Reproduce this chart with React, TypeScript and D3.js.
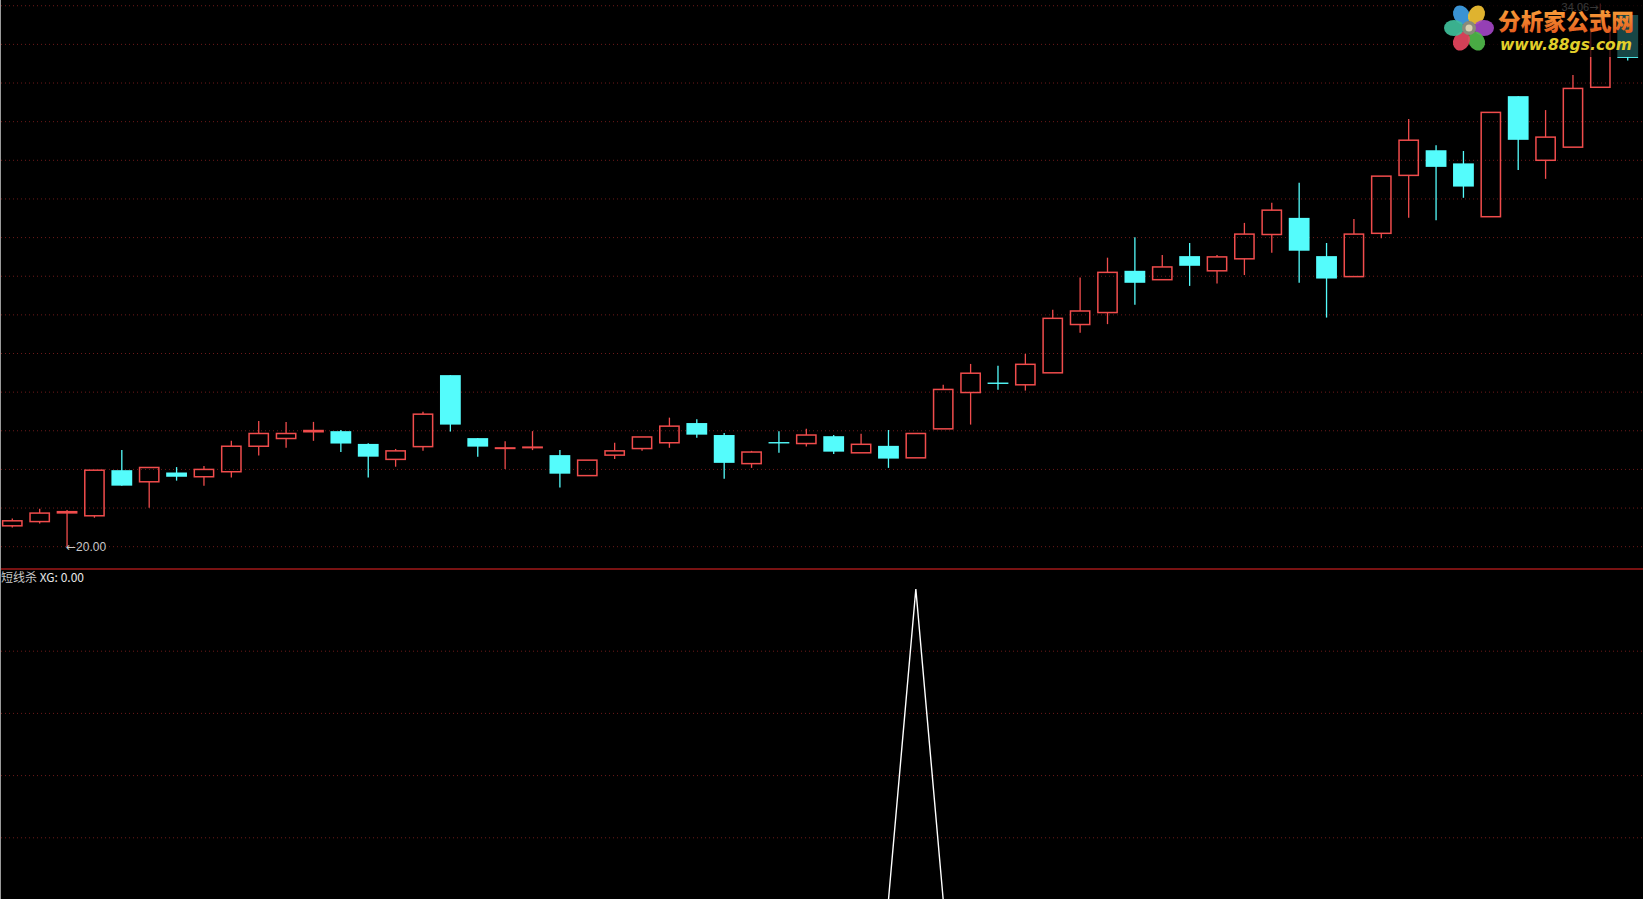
import React from "react";
import * as d3 from "d3";

const W = 1643;
const H = 899;

// daily candles, left to right
const opens = [
  20.54, 20.65, 20.83, 20.8, 21.98, 21.68, 21.92, 21.81, 21.94, 22.6,
  22.8, 22.93, 22.99, 22.66, 22.26, 22.59, 24.44, 22.81, 22.5, 22.54,
  22.37, 21.84, 22.37, 22.54, 22.69, 23.2, 22.89, 22.15, 22.69, 22.67,
  22.86, 22.43, 22.61, 22.3, 23.05, 23.99, 24.23, 24.19, 24.5, 25.75,
  26.06, 27.14, 26.91, 27.52, 27.14, 27.45, 28.08, 28.51, 27.52, 26.99,
  28.11, 29.61, 30.26, 29.92, 28.54, 31.66, 30.0, 30.34, 31.89, 33.76,
];
const closes = [
  20.67, 20.87, 20.9, 21.98, 21.58, 22.05, 21.81, 22.0, 22.6, 22.93,
  22.93, 23.0, 22.67, 22.33, 22.48, 23.43, 23.16, 22.59, 22.55, 22.57,
  21.89, 22.24, 22.48, 22.84, 23.12, 22.9, 22.17, 22.45, 22.69, 22.89,
  22.46, 22.65, 22.28, 22.93, 24.07, 24.49, 24.23, 24.72, 25.91, 26.1,
  27.1, 26.83, 27.24, 27.27, 27.5, 28.09, 28.71, 27.66, 26.94, 28.09,
  29.59, 30.52, 29.83, 29.32, 31.24, 30.53, 30.6, 31.86, 33.42, 32.65,
];
const highs = [
  20.73, 20.98, 20.95, 21.98, 22.5, 22.06, 22.06, 22.09, 22.74, 23.25,
  23.23, 23.23, 23.02, 22.68, 22.53, 23.49, 24.44, 22.81, 22.73, 22.99,
  22.5, 22.24, 22.69, 22.84, 23.34, 23.3, 22.94, 22.48, 22.99, 23.05,
  22.89, 22.92, 23.02, 22.93, 24.19, 24.73, 24.68, 24.99, 26.13, 26.97,
  27.48, 28.01, 27.55, 27.86, 27.55, 28.38, 28.9, 29.42, 27.86, 28.48,
  29.59, 31.07, 30.39, 30.24, 31.24, 31.66, 31.3, 32.21, 34.06, 33.76,
];
const lows = [
  20.5, 20.6, 20.0, 20.75, 21.58, 21.01, 21.71, 21.58, 21.79, 22.36,
  22.56, 22.74, 22.45, 21.79, 22.07, 22.48, 22.98, 22.33, 22.01, 22.5,
  21.53, 21.84, 22.27, 22.48, 22.56, 22.82, 21.76, 22.04, 22.43, 22.59,
  22.4, 22.43, 22.04, 22.3, 23.05, 23.16, 24.06, 24.04, 24.5, 25.54,
  25.76, 26.26, 26.91, 26.75, 26.81, 27.03, 27.61, 26.83, 25.93, 26.99,
  27.98, 28.51, 28.45, 29.03, 28.54, 29.75, 29.52, 30.34, 31.89, 32.58,
];
// 短线杀 XG signal
const xg = [
  0, 0, 0, 0, 0, 0, 0, 0, 0, 0,
  0, 0, 0, 0, 0, 0, 0, 0, 0, 0,
  0, 0, 0, 0, 0, 0, 0, 0, 0, 0,
  0, 0, 0, 1, 0, 0, 0, 0, 0, 0,
  0, 0, 0, 0, 0, 0, 0, 0, 0, 0,
  0, 0, 0, 0, 0, 0, 0, 0, 0, 0,
];

const priceGrid = [20, 21, 22, 23, 24, 25, 26, 27, 28, 29, 30, 31, 32, 33, 34];
const xgGrid = [0.2, 0.4, 0.6, 0.8];

const UP = "#f04c4c";
const DOWN = "#54fcfc";
const GRID = "#6e1a1a";

const x = d3
  .scaleBand<number>()
  .domain(d3.range(opens.length))
  .range([-1.39, 1641.41])
  .paddingInner(0.2403)
  .paddingOuter(0.12);
const bw = x.bandwidth();
const cx = (i: number) => x(i)! + bw / 2;

const yPrice = d3.scaleLinear().domain([20, 34]).range([546.7, 5.74]);
const yXg = d3.scaleLinear().domain([0, 1]).range([900, 589]);

const xgLine = d3
  .line<number>()
  .x((_, i) => cx(i))
  .y((d) => yXg(d));

const petals = [
  { a: -120, c: "#3f9fe6" },
  { a: -60, c: "#f2c233" },
  { a: 0, c: "#a245c4" },
  { a: 60, c: "#4fb84a" },
  { a: 120, c: "#e5455e" },
  { a: 180, c: "#3fbf9a" },
];

const Candle: React.FC<{ i: number }> = ({ i }) => {
  const o = opens[i], c = closes[i], h = highs[i], l = lows[i];
  const up = c > o;
  const col = up ? UP : DOWN;
  const top = yPrice(Math.max(o, c));
  const bot = yPrice(Math.min(o, c));
  const mid = cx(i);
  const left = x(i)!;
  const bh = bot - top;
  if (bh < 3) {
    return (
      <g>
        <line x1={mid} x2={mid} y1={yPrice(h)} y2={yPrice(l)} stroke={col} strokeWidth={1.3} />
        <rect x={left} y={top - (up ? 1 : 0.7)} width={bw} height={Math.max(bh, up ? 2 : 1.4)} fill={col} />
      </g>
    );
  }
  if (up) {
    return (
      <g>
        <line x1={mid} x2={mid} y1={yPrice(h)} y2={top} stroke={col} strokeWidth={1.3} />
        <line x1={mid} x2={mid} y1={bot} y2={yPrice(l)} stroke={col} strokeWidth={1.3} />
        <rect x={left + 0.75} y={top} width={bw - 1.5} height={bh} fill="none" stroke={col} strokeWidth={1.5} />
      </g>
    );
  }
  return (
    <g>
      <line x1={mid} x2={mid} y1={yPrice(h)} y2={yPrice(l)} stroke={col} strokeWidth={1.3} />
      <rect x={left} y={top} width={bw} height={bh} fill={col} />
    </g>
  );
};

export default function App() {
  const lowIdx = d3.minIndex(lows);
  const highIdx = d3.maxIndex(highs);
  return (
    <svg
      width={W}
      height={H}
      style={{ position: "absolute", left: 0, top: 0, background: "#000" }}
    >
      <rect width={W} height={H} fill="#000" />
      {priceGrid.map((p) => (
        <line key={p} x1={1} x2={W} y1={yPrice(p)} y2={yPrice(p)} stroke={GRID} strokeDasharray="1 3" />
      ))}
      {xgGrid.map((v) => (
        <line key={v} x1={1} x2={W} y1={yXg(v)} y2={yXg(v)} stroke={GRID} strokeDasharray="1 3" />
      ))}
      <line x1={0} x2={W} y1={569} y2={569} stroke="#a01818" strokeWidth={1.5} />
      <line x1={0.5} x2={0.5} y1={0} y2={H} stroke="#9a9a9a" />

      {opens.map((_, i) => (
        <Candle key={i} i={i} />
      ))}

      <text
        x={cx(lowIdx) - 1}
        y={yPrice(lows[lowIdx]) + 4.5}
        fill="#c8c8c8"
        fontSize={12}
        fontFamily="'Liberation Sans', Arial, sans-serif"
      >
        <tspan fontFamily="'DejaVu Sans', sans-serif">←</tspan>
        {lows[lowIdx].toFixed(2)}
      </text>
      <text
        x={cx(highIdx) - 2}
        y={yPrice(highs[highIdx]) + 8}
        fill="#c8c8c8"
        fontSize={11}
        textAnchor="end"
        fontFamily="'Liberation Sans', Arial, sans-serif"
      >
        {highs[highIdx].toFixed(2)}
        <tspan fontFamily="'DejaVu Sans', sans-serif">→</tspan>
      </text>

      <path d={xgLine(xg) ?? ""} fill="none" stroke="#ffffff" strokeWidth={1.4} />

      <text x={1} y={582} fontSize={12} fontFamily="'Noto Sans CJK SC', sans-serif" fill="#c8c8c8">
        短线杀 <tspan fill="#e8e8e8">XG: {xg[xg.length - 1].toFixed(2)}</tspan>
      </text>

      {/* logo overlay, dims what is behind it */}
      <rect x={1437} y={0} width={W - 1437} height={57} fill="#000" opacity={0.72} />
      <g transform="translate(1469,28)">
        {petals.map((p) => (
          <ellipse
            key={p.a}
            cx={0}
            cy={0}
            rx={10}
            ry={8}
            fill={p.c}
            transform={`rotate(${p.a}) translate(15,0)`}
            opacity={0.92}
          />
        ))}
        <circle r={7} fill="#8a8a7a" />
        <circle r={3.5} fill="#d8d0b0" />
      </g>
      <defs>
        <linearGradient id="logoGrad" x1="0" y1="0" x2="0" y2="1">
          <stop offset="0" stopColor="#ffb040" />
          <stop offset="1" stopColor="#e0521a" />
        </linearGradient>
      </defs>
      <text
        x={1498}
        y={30}
        fontSize={23}
        fontWeight={900}
        fill="url(#logoGrad)"
        fontFamily="'Noto Sans CJK SC', sans-serif"
        textLength={136}
        lengthAdjust="spacingAndGlyphs"
      >
        分析家公式网
      </text>
      <text
        x={1500}
        y={50}
        fontSize={16}
        fontWeight={700}
        fontStyle="italic"
        fill="#e2cf2a"
        fontFamily="'DejaVu Sans', sans-serif"
        textLength={132}
        lengthAdjust="spacingAndGlyphs"
      >
        www.88gs.com
      </text>
    </svg>
  );
}
